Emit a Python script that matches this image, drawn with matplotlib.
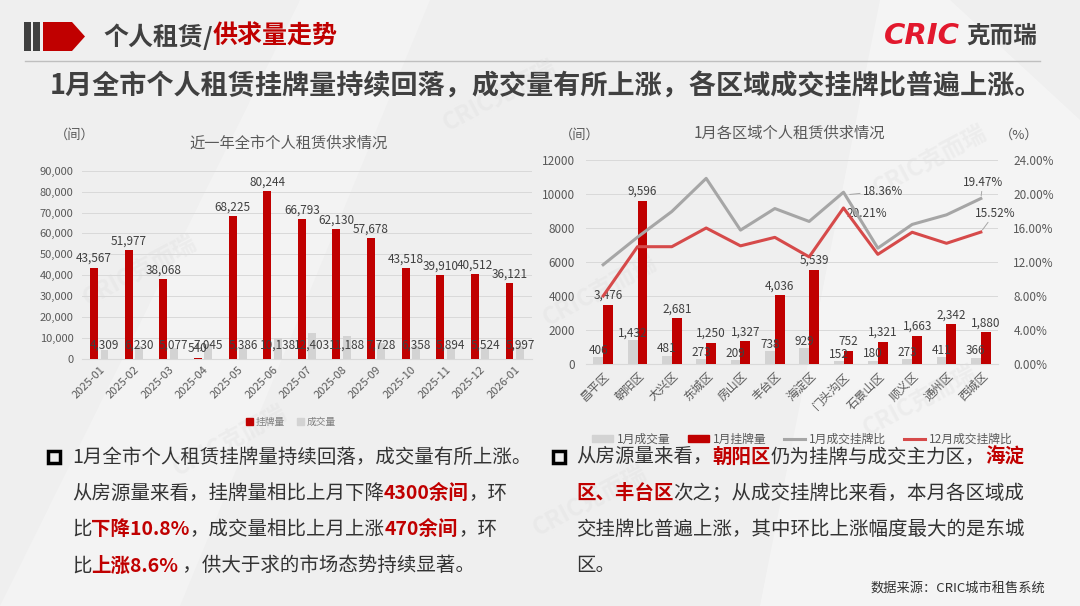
import numpy as np
import matplotlib
matplotlib.use('Agg')
import matplotlib.pyplot as plt
from matplotlib.patches import Polygon, Rectangle, Patch
from matplotlib.lines import Line2D

plt.rcParams['font.family'] = ['Noto Sans CJK SC', 'DejaVu Sans']
plt.rcParams['axes.unicode_minus'] = False

RED = '#C00000'
LINE_RED = '#D64A4A'
BAR_GREY = '#D3D3D3'
LINE_GREY = '#A6A6A6'
TXT = '#595959'
DARK = '#333333'
W, H = 1080, 606

# ---- data ----
months = ['2025-01', '2025-02', '2025-03', '2025-04', '2025-05', '2025-06', '2025-07',
          '2025-08', '2025-09', '2025-10', '2025-11', '2025-12', '2026-01']
listings = [43567, 51977, 38068, 540, 68225, 80244, 66793, 62130, 57678, 43518, 39910, 40512, 36121]
deals = [4309, 6230, 5077, 7045, 5386, 10138, 12403, 11188, 7728, 6358, 5894, 5524, 5997]

districts = ['昌平区', '朝阳区', '大兴区', '东城区', '房山区', '丰台区', '海淀区',
             '门头沟区', '石景山区', '顺义区', '通州区', '西城区']
dist_deals = [406, 1432, 481, 273, 209, 738, 929, 152, 180, 273, 411, 366]
dist_listings = [3476, 9596, 2681, 1250, 1327, 4036, 5539, 752, 1321, 1663, 2342, 1880]
ratio_jan = [11.68, 14.92, 17.94, 21.84, 15.75, 18.29, 16.77, 20.21, 13.63, 16.42, 17.55, 19.47]
ratio_dec = [8.0, 13.8, 13.8, 16.0, 13.9, 14.9, 12.6, 18.36, 12.9, 15.5, 14.2, 15.52]

left_text = [
    [("1月全市个人租赁挂牌量持续回落，成交量有所上涨。", False)],
    [("从房源量来看，挂牌量相比上月下降", False), ("4300余间", True), ("，环", False)],
    [("比", False), ("下降10.8%", True), ("，成交量相比上月上涨", False), ("470余间", True), ("，环", False)],
    [("比", False), ("上涨8.6%", True), (" ，供大于求的市场态势持续显著。", False)],
]
right_text = [
    [("从房源量来看，", False), ("朝阳区", True), ("仍为挂牌与成交主力区，", False), ("海淀", True)],
    [("区、丰台区", True), ("次之；从成交挂牌比来看，本月各区域成", False)],
    [("交挂牌比普遍上涨，其中环比上涨幅度最大的是东城", False)],
    [("区。", False)],
]

fig = plt.figure(figsize=(10.8, 6.06), dpi=100, facecolor='#EFEFEF')

# full-figure pixel canvas for the slide decoration
bg = fig.add_axes([0, 0, 1, 1])
bg.set_xlim(0, W)
bg.set_ylim(H, 0)
bg.axis('off')
bg.add_patch(Polygon([(0, 606), (180, 606), (430, 0), (300, 0)], closed=True,
                     fc='white', ec='none', alpha=0.25))
bg.add_patch(Polygon([(760, 606), (1080, 606), (1080, 120), (950, 0), (880, 0)], closed=True,
                     fc='white', ec='none', alpha=0.35))

for wx, wy in [(500, 95), (140, 270), (600, 290), (930, 160), (920, 400), (230, 440), (590, 500)]:
    bg.text(wx, wy, 'CRIC克而瑞', fontsize=17, fontweight='bold', color='#DCDCDC',
            alpha=0.3, rotation=28, ha='center', va='center')

# header icon
bg.add_patch(Rectangle((24, 22), 7, 29, fc='#404040', ec='none'))
bg.add_patch(Rectangle((33, 22), 7, 29, fc='#404040', ec='none'))
bg.add_patch(Polygon([(43, 22), (72, 22), (85, 36.5), (72, 51), (43, 51)], closed=True,
                     fc=RED, ec='none'))
bg.plot([25, 1040], [61, 61], color='#BFBFBF', lw=1)

renderer = fig.canvas.get_renderer()


def draw_runs(x, y, runs, size, base_color, weight_normal='normal'):
    for s, hl in runs:
        t = bg.text(x, y, s, fontsize=size, color=RED if hl else base_color,
                    fontweight='bold' if hl else weight_normal, va='center', ha='left')
        x += t.get_window_extent(renderer).width


draw_runs(103, 37, [("个人租赁/", False), ("供求量走势", True)], 18, '#404040', 'bold')

bg.text(960, 36, 'CRIC', fontsize=21, fontweight='heavy', style='italic', color='#E2182D',
        family='DejaVu Sans', va='center', ha='right')
bg.text(966, 36, '克而瑞', fontsize=17, fontweight='bold', color='#404040', va='center', ha='left')

bg.text(50, 87, '1月全市个人租赁挂牌量持续回落，成交量有所上涨，各区域成交挂牌比普遍上涨。',
        fontsize=19.5, fontweight='bold', color='#404040', va='center', ha='left')

# chart captions
bg.text(55, 135, '（间）', fontsize=9.5, color=TXT, va='center', ha='left')
bg.text(289, 143, '近一年全市个人租赁供求情况', fontsize=11, color=TXT, va='center', ha='center')
bg.text(560, 135, '（间）', fontsize=9.5, color=TXT, va='center', ha='left')
bg.text(789, 133, '1月各区域个人租赁供求情况', fontsize=11, color=TXT, va='center', ha='center')
bg.text(1000, 135, '（%）', fontsize=9.5, color=TXT, va='center', ha='left')

# body text
for i, runs in enumerate(left_text):
    draw_runs(72, 457 + 36.3 * i, runs, 14, DARK)
for i, runs in enumerate(right_text):
    draw_runs(576, 457 + 36.3 * i, runs, 14, DARK)
bg.add_patch(Rectangle((48, 451), 12, 12, fc='none', ec='black', lw=2.5))
bg.add_patch(Rectangle((553, 451), 12, 12, fc='none', ec='black', lw=2.5))
bg.text(1045, 588, '数据来源：CRIC城市租售系统', fontsize=9.5, color=DARK, va='center', ha='right')

# ---- left chart ----
ax1 = fig.add_axes([82 / W, 1 - 359 / H, 450 / W, 188.3 / H])
ax1.set_facecolor('none')
x = np.arange(len(months))
bw = 0.23
ax1.bar(x - 0.15, listings, bw, color=RED, zorder=3)
ax1.bar(x + 0.15, deals, bw, color=BAR_GREY, zorder=3)
for xi, v in zip(x, listings):
    ax1.annotate(f'{v:,}', (xi - 0.15, v), xytext=(0, 2), textcoords='offset points',
                 ha='center', va='bottom', fontsize=8.5, color='#404040', zorder=4)
for xi, v in zip(x, deals):
    ax1.text(xi + 0.15, 6400, f'{v:,}', ha='center', va='center', fontsize=8.5,
             color='#404040', zorder=4)
ax1.set_xlim(-0.5, len(months) - 0.5)
ax1.set_ylim(0, 90000)
ax1.set_yticks(np.arange(0, 90001, 10000))
ax1.set_yticklabels([f'{v:,}' for v in range(0, 90001, 10000)])
ax1.set_xticks(x)
ax1.set_xticklabels(months, rotation=45, ha='right', rotation_mode='anchor')
ax1.tick_params(axis='both', length=0, labelsize=8, labelcolor=TXT)
ax1.tick_params(axis='y', pad=6)
ax1.tick_params(axis='x', pad=4)
ax1.grid(axis='y', color='#D9D9D9', lw=0.7, zorder=0)
for sp in ['top', 'right', 'left']:
    ax1.spines[sp].set_visible(False)
ax1.spines['bottom'].set_color('#D9D9D9')
ax1.legend(handles=[Patch(color=RED, label='挂牌量'), Patch(color=BAR_GREY, label='成交量')],
           loc='center', bbox_to_anchor=(291 / W, 1 - 422 / H), bbox_transform=fig.transFigure,
           ncol=2, fontsize=7, frameon=False, handlelength=0.7, handleheight=0.7,
           handletextpad=0.3, columnspacing=1.2, labelcolor='#7F7F7F')

# ---- right chart ----
ax2 = fig.add_axes([586 / W, 1 - 364 / H, 412 / W, 204 / H])
ax2.set_facecolor('none')
xd = np.arange(len(districts))
bw2 = 0.29
ax2.bar(xd - 0.145, dist_deals, bw2, color=BAR_GREY, zorder=3)
ax2.bar(xd + 0.145, dist_listings, bw2, color=RED, zorder=3)
for xi, v in zip(xd, dist_deals):
    ax2.annotate(f'{v:,}', (xi - 0.145, v), xytext=(0, 5), textcoords='offset points',
                 ha='center', va='center', fontsize=8.5, color='#404040', zorder=4)
for xi, v in zip(xd, dist_listings):
    ax2.annotate(f'{v:,}', (xi + 0.145, v), xytext=(0, 2), textcoords='offset points',
                 ha='center', va='bottom', fontsize=8.5, color='#404040', zorder=4)
ax2.set_xlim(-0.5, len(districts) - 0.5)
ax2.set_ylim(0, 12000)
ax2.set_yticks(np.arange(0, 12001, 2000))
ax2.set_xticks(xd)
ax2.set_xticklabels(districts, rotation=45, ha='right', rotation_mode='anchor')
ax2.tick_params(axis='both', length=0, labelsize=8.5, labelcolor=TXT)
ax2.tick_params(axis='y', pad=8)
ax2.tick_params(axis='x', pad=4)
ax2.grid(axis='y', color='#D9D9D9', lw=0.7, zorder=0)
for sp in ['top', 'right', 'left']:
    ax2.spines[sp].set_visible(False)
ax2.spines['bottom'].set_color('#D9D9D9')

ax3 = ax2.twinx()
ax3.plot(xd, ratio_jan, color=LINE_GREY, lw=2.2, zorder=5)
ax3.plot(xd, ratio_dec, color=LINE_RED, lw=2.2, zorder=5)
ax3.set_ylim(0, 24)
ax3.set_yticks(np.arange(0, 24.1, 4))
ax3.set_yticklabels([f'{v:.2f}%' for v in np.arange(0, 24.1, 4)])
ax3.tick_params(axis='y', length=0, labelsize=8.5, labelcolor=TXT, pad=11)
for sp in ax3.spines.values():
    sp.set_visible(False)

lead = dict(arrowstyle='-', color='#A6A6A6', lw=0.7, shrinkA=0, shrinkB=2)
ax3.annotate(f'{ratio_dec[7]:.2f}%', (7.1, ratio_jan[7] - 0.3), xytext=(8.15, 20.35),
             fontsize=8.5, color='#404040', ha='center', va='center', arrowprops=lead)
ax3.annotate(f'{ratio_jan[7]:.2f}%', (7, ratio_dec[7]), xytext=(7.68, 17.76),
             fontsize=8.5, color='#404040', ha='center', va='center')
ax3.annotate(f'{ratio_jan[11]:.2f}%', (11, ratio_jan[11]), xytext=(11.06, 21.4),
             fontsize=8.5, color='#404040', ha='center', va='center', arrowprops=lead,
             annotation_clip=False)
ax3.annotate(f'{ratio_dec[11]:.2f}%', (11, ratio_dec[11]), xytext=(11.41, 17.76),
             fontsize=8.5, color='#404040', ha='center', va='center', arrowprops=lead,
             annotation_clip=False)

handles = [Patch(color=BAR_GREY, label='1月成交量'), Patch(color=RED, label='1月挂牌量'),
           Line2D([], [], color=LINE_GREY, lw=2.2, label='1月成交挂牌比'),
           Line2D([], [], color=LINE_RED, lw=2.2, label='12月成交挂牌比')]
ax3.legend(handles=handles, loc='center', bbox_to_anchor=(802 / W, 1 - 439 / H),
           bbox_transform=fig.transFigure, ncol=4, fontsize=8.5, frameon=False,
           handlelength=1.8, handleheight=0.6, handletextpad=0.3, columnspacing=1.5,
           labelcolor=TXT)

fig.savefig('out.png', dpi=100, facecolor=fig.get_facecolor())
